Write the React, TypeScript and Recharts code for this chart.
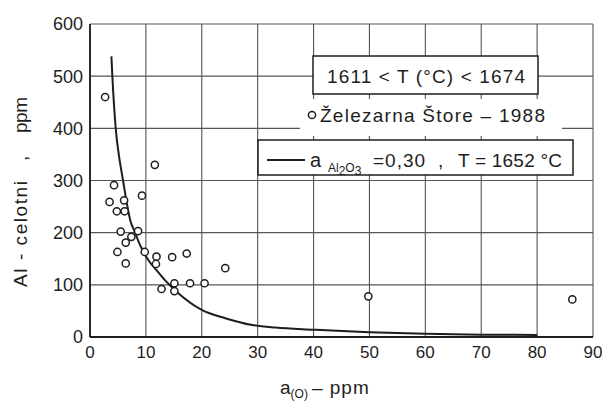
import {
  ComposedChart,
  Line,
  Scatter,
  XAxis,
  YAxis,
  CartesianGrid,
  Customized,
} from "recharts";

// measured points, Železarna Štore 1988: a[O] (ppm) vs Al total (ppm)
const PT_X = [2.7, 11.6, 4.3, 9.3, 3.5, 6.1, 4.8, 6.2, 5.5, 8.6, 7.4, 6.4, 4.9, 9.8, 6.4, 11.9, 11.8, 14.7, 17.3, 24.2, 12.8, 15.1, 15.1, 17.9, 20.5, 49.8, 86.3];
const PT_Y = [460, 330, 291, 271, 259, 262, 241, 241, 202, 203, 192, 181, 163, 163, 141, 154, 140, 153, 160, 132, 92, 103, 88, 103, 103, 78, 72];

// equilibrium curve a(Al2O3)=0,30, T=1652 °C
const CURVE_X = [3.83, 4.0, 4.6, 5.3, 5.9, 6.5, 7.2, 8.0, 9.0, 10.4, 11.9, 13.4, 15.8, 20, 24.2, 29, 33.2, 40, 50, 60, 70, 80];
const CURVE_Y = [538, 500, 400, 339, 301, 262, 224, 202, 175, 148, 128, 109, 84, 52, 36, 23, 18, 14, 9, 6, 4.5, 4];

const X_TICKS = [0, 10, 20, 30, 40, 50, 60, 70, 80, 90];
const Y_TICKS = [0, 100, 200, 300, 400, 500, 600];

const INK = "#1e1e1e";
const FONT = "'Liberation Sans', Arial, sans-serif";

const points = PT_X.map((x, i) => ({ x, y: PT_Y[i] }));
const curve = CURVE_X.map((x, i) => ({ x, y: CURVE_Y[i] }));

const Ring = (props: any) => {
  const { cx, cy } = props;
  if (cx == null || cy == null) return null;
  return <circle cx={cx} cy={cy} r={3.6} fill="#fff" stroke={INK} strokeWidth={1.5} />;
};

// rotated y title piece, starting at screen y and running upwards
const VText = ({ y, len, children }: { y: number; len?: number; children: any }) => (
  <text
    x={27}
    y={y}
    transform={`rotate(-90 27 ${y})`}
    fontSize={19}
    textLength={len}
    lengthAdjust={len ? "spacing" : undefined}
  >
    {children}
  </text>
);

function Notes() {
  return (
    <g fill={INK} fontFamily={FONT}>
      {/* axis titles */}
      <VText y={287} len={106}>Al - celotni</VText>
      <VText y={161}>,</VText>
      <VText y={133} len={36}>ppm</VText>
      <text x={280} y={394} fontSize={19}>
        a
        <tspan fontSize={12} dy={4}>(O)</tspan>
        <tspan dy={-4} dx={4} letterSpacing={1}>– ppm</tspan>
      </text>

      {/* temperature range box */}
      <rect x={313} y={56} width={225} height={38} fill="#fff" stroke={INK} strokeWidth={1.5} />
      <text x={327} y={83} fontSize={19} textLength={198} lengthAdjust="spacing">
        1611 &lt; T (°C) &lt; 1674
      </text>

      {/* data legend */}
      <rect x={300} y={99} width={262} height={37} fill="#fff" />
      <circle cx={312} cy={115} r={3.6} fill="#fff" stroke={INK} strokeWidth={1.5} />
      <text x={320} y={122} fontSize={19} textLength={225} lengthAdjust="spacing">
        Železarna Štore – 1988
      </text>

      {/* curve legend */}
      <rect x={258} y={140} width={315} height={35} fill="#fff" stroke={INK} strokeWidth={1.5} />
      <line x1={267} y1={160} x2={305} y2={160} stroke={INK} strokeWidth={2} />
      <text x={310} y={167} fontSize={20}>a</text>
      <text x={328} y={172} fontSize={12}>
        Al<tspan dy={3}>2</tspan><tspan dy={-3}>O</tspan><tspan dy={3}>3</tspan>
      </text>
      <text x={373} y={167} fontSize={19} textLength={52} lengthAdjust="spacing">=0,30</text>
      <text x={438} y={167} fontSize={19}>,</text>
      <text x={458} y={167} fontSize={19} textLength={104} lengthAdjust="spacing">
        T = 1652 °C
      </text>
    </g>
  );
}

export default function App() {
  return (
    <div
      style={{
        position: "absolute",
        left: 0,
        top: 0,
        width: 607,
        height: 403,
        background: "#fff",
        fontFamily: FONT,
      }}
    >
      <ComposedChart
        width={607}
        height={403}
        margin={{ top: 24, right: 14, bottom: 26, left: 0 }}
      >
        <CartesianGrid stroke="#555" strokeWidth={1.1} />
        <XAxis
          type="number"
          dataKey="x"
          domain={[0, 90]}
          ticks={X_TICKS}
          allowDataOverflow
          height={40}
          tickLine={false}
          tickSize={0}
          tickMargin={9}
          axisLine={{ stroke: INK, strokeWidth: 1.8 }}
          tick={{ fontSize: 17, fill: INK }}
        />
        <YAxis
          type="number"
          dataKey="y"
          domain={[0, 600]}
          ticks={Y_TICKS}
          width={90}
          tickLine={false}
          tickSize={0}
          tickMargin={7}
          axisLine={{ stroke: INK, strokeWidth: 1.8 }}
          tick={{ fontSize: 18, fill: INK }}
        />
        <Line
          data={curve}
          dataKey="y"
          type="monotone"
          stroke={INK}
          strokeWidth={2}
          dot={false}
          activeDot={false}
          isAnimationActive={false}
        />
        <Scatter
          data={points}
          dataKey="y"
          shape={<Ring />}
          isAnimationActive={false}
        />
        <Customized component={<Notes />} />
      </ComposedChart>
    </div>
  );
}
